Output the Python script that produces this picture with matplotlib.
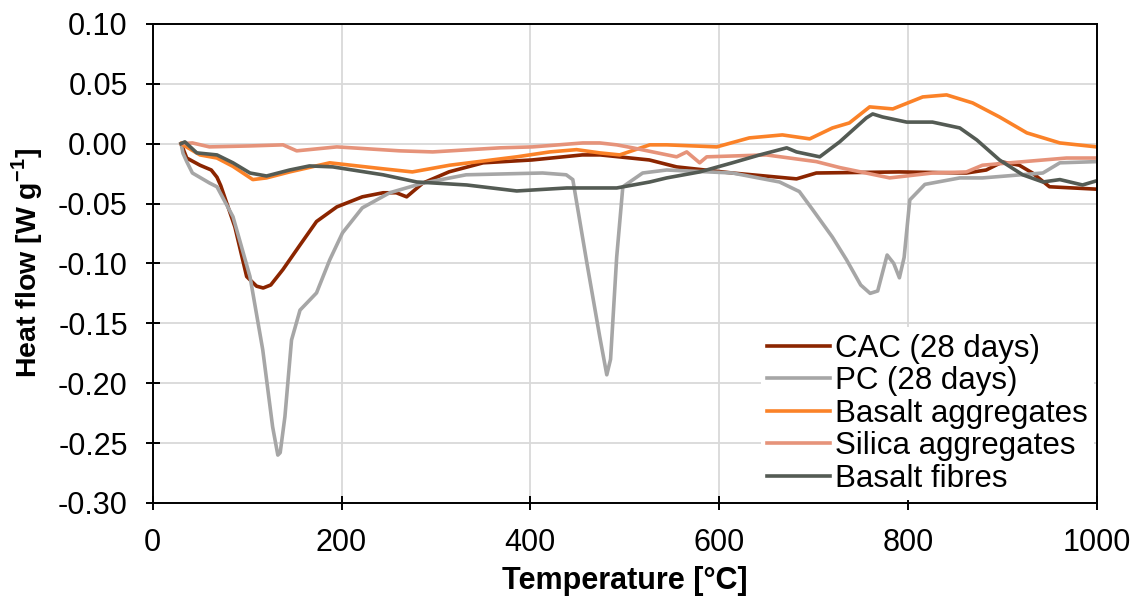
import matplotlib
matplotlib.use("Agg")
import matplotlib.pyplot as plt

plt.rcParams['font.family'] = ['Liberation Sans', 'DejaVu Sans']
plt.rcParams['mathtext.fontset'] = 'custom'
plt.rcParams['mathtext.rm'] = 'Liberation Sans'
plt.rcParams['mathtext.bf'] = 'Liberation Sans:bold'

# heat flow curves (x in degC, y in W/g)
cac_x = [30, 36, 50, 62, 68, 72, 87, 99.5, 110, 117, 125, 138, 156, 173.5, 195, 222, 244, 258, 269, 286,
         314, 350, 402, 455, 474, 526, 555, 614, 682, 703, 791, 862, 883, 900, 918, 932, 950, 1000]
cac_y = [0, -0.012, -0.018, -0.022, -0.028, -0.035, -0.0695, -0.111, -0.119, -0.1205, -0.118, -0.105,
         -0.0846, -0.065, -0.0528, -0.0444, -0.041, -0.041, -0.0444, -0.033, -0.0235, -0.016, -0.0136,
         -0.0094, -0.0094, -0.0136, -0.0194, -0.0245, -0.0294, -0.0245, -0.0236, -0.0245, -0.022,
         -0.0153, -0.018, -0.0245, -0.036, -0.038]

pc_x = [30, 32, 36, 42, 60, 68, 85, 103, 116.5, 127, 132.5, 135, 140, 147, 156, 173.5, 187.5, 201, 222,
        251, 286, 332, 413, 438, 445, 460, 473.5, 481, 485, 491.5, 498, 519, 544.5, 614, 664, 685, 699,
        720, 735, 750, 760, 768, 778, 785, 791, 796, 802, 818, 855, 879, 943, 961, 1000]
pc_y = [0, -0.008, -0.015, -0.0245, -0.0328, -0.036, -0.061, -0.111, -0.172, -0.2365, -0.26, -0.258,
        -0.228, -0.164, -0.139, -0.1246, -0.097, -0.0745, -0.0536, -0.041, -0.033, -0.026, -0.0245,
        -0.026, -0.030, -0.100, -0.161, -0.193, -0.18, -0.0946, -0.036, -0.0245, -0.022, -0.0245,
        -0.032, -0.040, -0.055, -0.078, -0.097, -0.118, -0.125, -0.123, -0.093, -0.100, -0.112, -0.095,
        -0.047, -0.034, -0.0286, -0.0286, -0.0245, -0.016, -0.015]

bagg_x = [30, 32, 50, 68, 85, 106, 120.5, 145, 187.5, 244, 275, 314.6, 385.6, 420.6, 449, 473.5, 494.7,
          526.5, 544.5, 597.5, 632, 667, 696, 720, 738, 759.5, 784, 815.7, 841, 868.6, 897, 926, 961, 1000]
bagg_y = [0, -0.001, -0.0094, -0.012, -0.019, -0.030, -0.0286, -0.0236, -0.016, -0.021, -0.0236, -0.018,
          -0.011, -0.0069, -0.005, -0.0077, -0.0094, -0.001, -0.001, -0.0027, 0.0048, 0.0073, 0.004,
          0.0131, 0.0173, 0.0307, 0.029, 0.039, 0.0407, 0.034, 0.0223, 0.009, 0.0006, -0.0027]

sil_x = [30, 42, 60, 103, 138, 152.5, 195, 261.6, 296.6, 367.6, 402.5, 455.5, 473.5, 491.5, 508.5, 555,
         565.7, 579.4, 586.9, 650, 703, 728, 780.7, 826, 862, 879, 908, 968, 1000]
sil_y = [0, 0.0006, -0.0027, -0.0019, -0.001, -0.006, -0.0027, -0.006, -0.0069, -0.0035, -0.0027, 0.0006,
         0.0006, -0.001, -0.0035, -0.011, -0.0069, -0.016, -0.011, -0.0094, -0.015, -0.020, -0.0286,
         -0.0245, -0.0236, -0.018, -0.016, -0.012, -0.012]

bfib_x = [30, 34, 46.6, 68, 85, 103, 120.5, 145, 166, 190.7, 244, 279.7, 332.6, 385.6, 438.6, 491.5,
          526.5, 544.5, 579.4, 614, 643, 671.6, 682, 706.6, 727.7, 756, 762.7, 773, 798.7, 826, 855, 873,
          897, 921.6, 943, 961, 985, 1000]
bfib_y = [0, 0.0015, -0.0077, -0.0094, -0.016, -0.0245, -0.027, -0.022, -0.0186, -0.0194, -0.026, -0.032,
          -0.0345, -0.0395, -0.037, -0.037, -0.032, -0.0286, -0.0236, -0.016, -0.0094, -0.0035, -0.0069,
          -0.011, 0.0015, 0.0215, 0.0248, 0.0223, 0.018, 0.018, 0.0131, 0.0031, -0.0136, -0.026, -0.032,
          -0.030, -0.0345, -0.031]

labels = ['CAC (28 days)', 'PC (28 days)', 'Basalt aggregates', 'Silica aggregates', 'Basalt fibres']
x_ticks = [0, 200, 400, 600, 800, 1000]
y_ticks = [0.10, 0.05, 0.00, -0.05, -0.10, -0.15, -0.20, -0.25, -0.30]

fig = plt.figure(figsize=(11.4, 5.97), dpi=100)
ax = fig.add_axes([0.134, 0.1575, 0.828, 0.8025])

lw = 2.6
ax.plot(cac_x, cac_y, color='#8B2500', lw=lw, label=labels[0])
ax.plot(pc_x, pc_y, color='#A6A6A6', lw=lw, label=labels[1])
ax.plot(bagg_x, bagg_y, color='#FB8228', lw=lw, label=labels[2])
ax.plot(sil_x, sil_y, color='#E6937A', lw=lw, label=labels[3])
ax.plot(bfib_x, bfib_y, color='#545B54', lw=lw, label=labels[4])

ax.set_xlim(0, 1000)
ax.set_ylim(-0.30, 0.10)
ax.set_xticks(x_ticks)
ax.set_yticks(y_ticks)
ax.set_yticklabels(['%.2f' % v for v in y_ticks])
ax.grid(True, color='#D9D9D9', lw=1.3)
ax.set_axisbelow(True)
for s in ax.spines.values():
    s.set_linewidth(1.4)
ax.tick_params(direction='inout', length=10, width=1.4, labelsize=22)
ax.tick_params(axis='x', pad=13)
ax.tick_params(axis='y', pad=13)

ax.set_xlabel('Temperature [°C]', fontsize=22, fontweight='bold', labelpad=6)
ax.set_ylabel('Heat flow [W g$^{\\mathbf{-1}}$]', fontsize=20.5, fontweight='bold', labelpad=9)

leg = ax.legend(loc='lower right', fontsize=22.5, frameon=True, fancybox=False, edgecolor='none',
                facecolor='white', framealpha=1, handlelength=2.0, handletextpad=0.15,
                labelspacing=0.08, borderpad=0.2, borderaxespad=0.1)

plt.savefig('out.png', dpi=100)
